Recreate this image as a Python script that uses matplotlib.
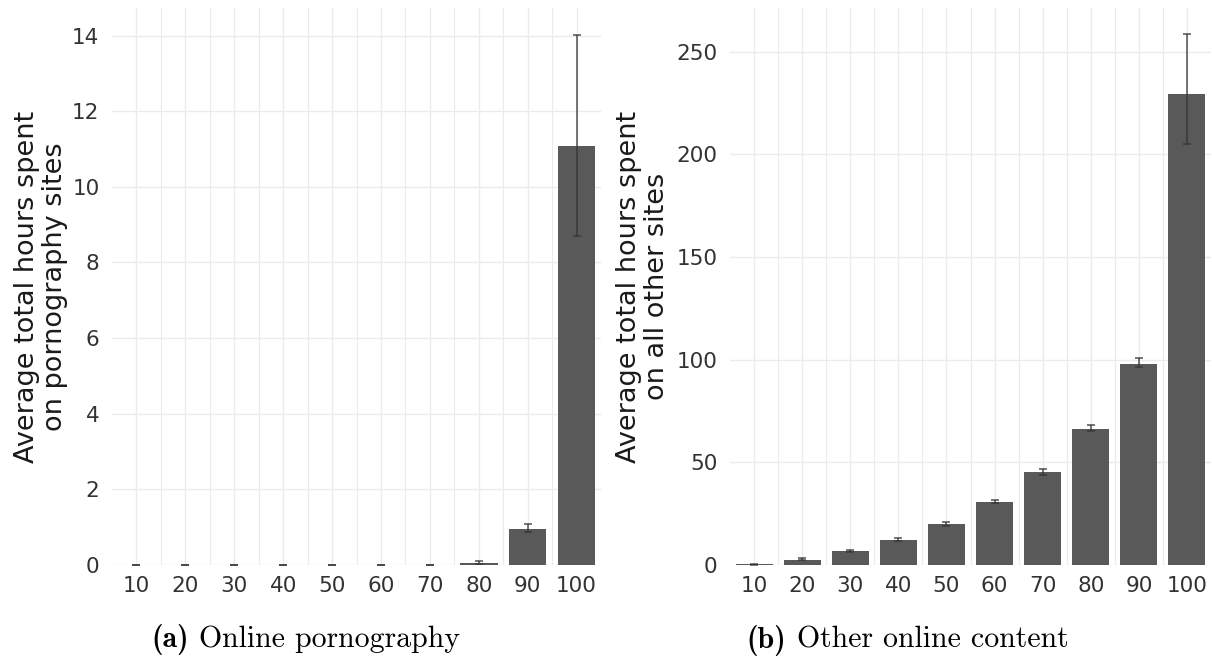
import numpy as np
import matplotlib
matplotlib.use("Agg")
import matplotlib.pyplot as plt

# percentile groups of total browsing time
groups = [10, 20, 30, 40, 50, 60, 70, 80, 90, 100]

# (a) hours on pornography sites
porn_mean = [0.0, 0.0, 0.0, 0.0, 0.0, 0.0, 0.0, 0.06, 0.95, 11.07]
porn_low = [0.0, 0.0, 0.0, 0.0, 0.0, 0.0, 0.0, 0.03, 0.86, 8.70]
porn_high = [0.01, 0.01, 0.01, 0.01, 0.01, 0.01, 0.01, 0.11, 1.08, 14.02]

# (b) hours on all other sites
other_mean = [0.3, 2.6, 6.9, 12.3, 19.9, 30.7, 45.1, 66.1, 97.8, 229.3]
other_low = [0.1, 2.2, 6.3, 11.7, 19.2, 30.0, 43.8, 65.4, 96.3, 204.9]
other_high = [0.6, 3.2, 7.5, 13.2, 20.9, 31.7, 46.6, 68.0, 100.6, 258.4]

ylabels = ["Average total hours spent\non pornography sites",
           "Average total hours spent\non all other sites"]
cap_tags = ["(a)", "(b)"]
cap_texts = ["Online pornography", "Other online content"]

fig = plt.figure(figsize=(12.12, 6.58), dpi=100)
ax1 = fig.add_axes([112 / 1212, 1 - 565 / 658, 489 / 1212, 557 / 658])
ax2 = fig.add_axes([730 / 1212, 1 - 565 / 658, 481 / 1212, 557 / 658])

panels = [
    (ax1, porn_mean, porn_low, porn_high, 14.73, [0, 2, 4, 6, 8, 10, 12, 14], -0.091),
    (ax2, other_mean, other_low, other_high, 271.3, [0, 50, 100, 150, 200, 250], -0.124),
]

x = np.arange(len(groups))
for i, (ax, mean, low, high, top, yt, labx) in enumerate(panels):
    mean = np.array(mean)
    err = [mean - np.array(low), np.array(high) - mean]
    ax.bar(x, mean, width=0.77, color="#595959", zorder=2)
    ax.errorbar(x, mean, yerr=err, fmt="none", ecolor="#333333", alpha=0.85,
                elinewidth=1.1, capsize=3.2, capthick=1.1, zorder=3)
    ax.set_xlim(-0.5, len(groups) - 0.5)
    ax.set_ylim(0, top)
    ax.set_xticks(x)
    ax.set_xticklabels([str(g) for g in groups])
    ax.set_xticks(x[:-1] + 0.5, minor=True)
    ax.set_yticks(yt)
    ax.grid(True, which="major", color="#ebebeb", linewidth=1.0, zorder=0)
    ax.grid(True, which="minor", axis="x", color="#ebebeb", linewidth=0.8, zorder=0)
    ax.set_axisbelow(True)
    for s in ax.spines.values():
        s.set_visible(False)
    ax.tick_params(which="both", length=0)
    ax.tick_params(axis="x", labelsize=15.5, labelcolor="#333333", pad=8)
    ax.tick_params(axis="y", labelsize=15.5, labelcolor="#333333", pad=9)
    ax.set_ylabel(ylabels[i], fontsize=19.5, color="#1a1a1a", linespacing=1.1)
    ax.yaxis.set_label_coords(labx, 0.5)

# sub-captions: bold tag + roman text, centred as one line
renderer = fig.canvas.get_renderer()
centres = [305.5, 907.5]
baselines = [647, 648]
gap = 10
for tag, txt, cx, by in zip(cap_tags, cap_texts, centres, baselines):
    t1 = fig.text(0, 1 - by / 658, tag, fontsize=21.5, family="cmb10", va="baseline")
    t2 = fig.text(0, 1 - by / 658, txt, fontsize=21.5, family="cmr10", va="baseline")
    w1 = t1.get_window_extent(renderer).width
    w2 = t2.get_window_extent(renderer).width
    left = cx - (w1 + gap + w2) / 2
    t1.set_x(left / 1212)
    t2.set_x((left + w1 + gap) / 1212)

fig.savefig("out.png", dpi=100)
